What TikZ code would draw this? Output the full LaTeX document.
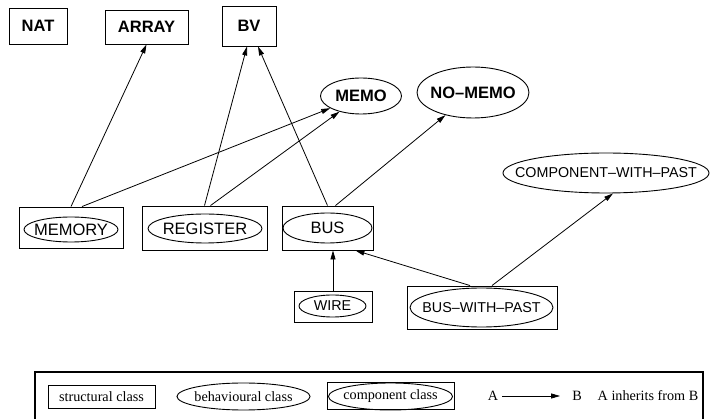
\documentclass[tikz,border=0pt]{standalone}
\usepackage{fontspec}
\setmainfont{Liberation Serif}
\setsansfont{Liberation Sans}
\usetikzlibrary{arrows.meta,shapes.geometric}
% text that does not widen its ellipse
\newcommand{\etq}[1]{\makebox[0pt]{#1}}

\begin{document}
\begin{tikzpicture}[x=1pt, y=-1pt,
    >={Triangle[length=9pt,width=5pt]},
    every node/.style={font=\sffamily\fontsize{16.5}{19}\selectfont, inner sep=0pt},
    menor/.style={font=\sffamily\fontsize{14.3}{17}\selectfont},
    negrita/.style={font=\sffamily\bfseries\fontsize{16.5}{19}\selectfont},
    estructural/.style={draw, line width=0.9pt, negrita},
    comportamiento/.style={draw, ellipse, line width=0.9pt},
    caja/.style={draw, line width=0.9pt},
    leyenda/.style={font=\rmfamily\fontsize{14.2}{17}\selectfont},
    hereda/.style={->, line width=0.8pt}
]
\useasboundingbox (0,0) rectangle (710,419);
% Clases estructurales
\node[estructural, minimum width=58pt, minimum height=36pt] (nat) at (38,26) {NAT};
\node[estructural, minimum width=83pt, minimum height=34pt] (array) at (146.5,27) {ARRAY};
\node[estructural, minimum width=54pt, minimum height=40pt] (bv) at (249,26) {BV};
% Clases de comportamiento
\node[comportamiento, negrita, minimum width=81pt, minimum height=36pt] (memo) at (361,96) {\etq{MEMO}};
\node[comportamiento, negrita, minimum width=112pt, minimum height=51pt] (nomemo) at (473,92.5) {\etq{NO--MEMO}};
\node[comportamiento, menor, minimum width=206pt, minimum height=40pt] (cwp) at (606,173) {\etq{COMPONENT--WITH--PAST}};
% Clases componente
\node[caja, minimum width=104pt, minimum height=41pt] (memory) at (71,227.5) {};
\node[comportamiento, minimum width=94pt, minimum height=25pt] (memoryE) at (71,229.5) {\etq{MEMORY}};
\node[caja, minimum width=125pt, minimum height=44pt] (register) at (204.5,228) {};
\node[comportamiento, minimum width=114pt, minimum height=29pt] (registerE) at (205,228.5) {\etq{REGISTER}};
\node[caja, minimum width=91pt, minimum height=44pt] (bus) at (327.5,228) {};
\node[comportamiento, minimum width=89pt, minimum height=30pt] (busE) at (327.5,228) {\etq{BUS}};
\node[caja, minimum width=78pt, minimum height=31pt] (wire) at (333,306.5) {};
\node[comportamiento, menor, minimum width=67pt, minimum height=22pt] (wireE) at (332.5,306) {\etq{WIRE}};
\node[caja, minimum width=150pt, minimum height=43pt] (bwp) at (482,307.5) {};
\node[comportamiento, menor, minimum width=143pt, minimum height=39pt] (bwpE) at (481.5,307.5) {\etq{BUS--WITH--PAST}};
% Herencia
\draw[hereda] (memory.north) -- (array.south);
\draw[hereda] ([xshift=11pt]memory.north) -- (memo);
\draw[hereda] (register.north) -- ([xshift=-2pt]bv.south);
\draw[hereda] ([xshift=6pt]register.north) -- (memo);
\draw[hereda] (bus.north) -- ([xshift=9pt]bv.south);
\draw[hereda] ([xshift=8pt]bus.north) -- (nomemo);
\draw[hereda] (wire.north) -- (wire.north |- bus.south);
\draw[hereda] ([xshift=-12pt]bwp.north) -- ([xshift=-18pt]bus.south east);
\draw[hereda] ([xshift=10pt]bwp.north) -- ([xshift=7pt]cwp.south);
% Leyenda
\node[draw, line width=1.6pt, minimum width=668pt, minimum height=48pt] (marco) at (369,396) {};
\node[caja, leyenda, minimum width=107pt, minimum height=23pt] (lestruct) at (101.5,396.5) {structural class};
\node[comportamiento, leyenda, minimum width=133pt, minimum height=27pt] (lcomport) at (243.5,396.5) {\etq{behavioural class}};
\node[caja, minimum width=127pt, minimum height=27pt] (lcompon) at (390.5,395.5) {};
\node[comportamiento, leyenda, minimum width=124pt, minimum height=27pt] (lcomponE) at (390.5,396.5) {\etq{component class}};
\node[leyenda] (la) at (493,396) {A};
\node[leyenda] (lb) at (577,396) {B};
\draw[hereda, shorten <=4pt, shorten >=12pt] (la) -- (lb);
\node[leyenda] (ltexto) at (648,396) {A inherits from B};
\end{tikzpicture}
\end{document}
